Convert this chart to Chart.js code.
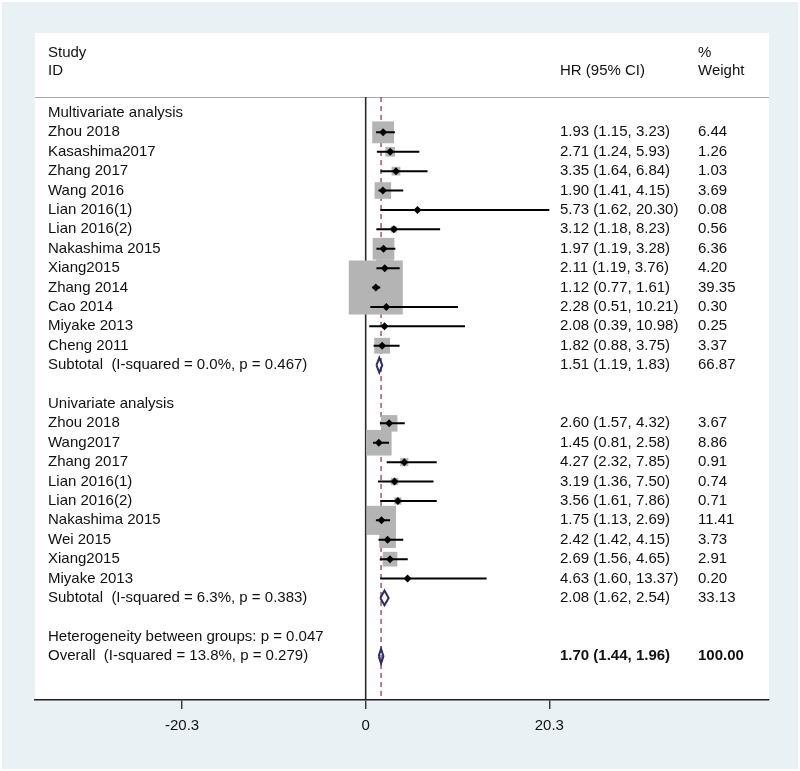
<!DOCTYPE html>
<html>
<head>
<meta charset="utf-8">
<script src="https://cdn.jsdelivr.net/npm/chart.js@4.4.0/dist/chart.umd.min.js"></script>
<style>
  html, body { margin: 0; padding: 0; background: #fff; }
  #wrap { width: 800px; height: 771px; }
</style>
</head>
<body>
<div id="wrap"><canvas id="forest" width="800" height="771"></canvas></div>
<script>
// data
const multiStudies = ['Zhou 2018', 'Kasashima2017', 'Zhang 2017', 'Wang 2016', 'Lian 2016(1)', 'Lian 2016(2)',
    'Nakashima 2015', 'Xiang2015', 'Zhang 2014', 'Cao 2014', 'Miyake 2013', 'Cheng 2011'];
const multiHR = [1.93, 2.71, 3.35, 1.90, 5.73, 3.12, 1.97, 2.11, 1.12, 2.28, 2.08, 1.82];
const multiLo = [1.15, 1.24, 1.64, 1.41, 1.62, 1.18, 1.19, 1.19, 0.77, 0.51, 0.39, 0.88];
const multiHi = [3.23, 5.93, 6.84, 4.15, 20.30, 8.23, 3.28, 3.76, 1.61, 10.21, 10.98, 3.75];
const multiW = [6.44, 1.26, 1.03, 3.69, 0.08, 0.56, 6.36, 4.20, 39.35, 0.30, 0.25, 3.37];

const uniStudies = ['Zhou 2018', 'Wang2017', 'Zhang 2017', 'Lian 2016(1)', 'Lian 2016(2)', 'Nakashima 2015',
    'Wei 2015', 'Xiang2015', 'Miyake 2013'];
const uniHR = [2.60, 1.45, 4.27, 3.19, 3.56, 1.75, 2.42, 2.69, 4.63];
const uniLo = [1.57, 0.81, 2.32, 1.36, 1.61, 1.13, 1.42, 1.56, 1.60];
const uniHi = [4.32, 2.58, 7.85, 7.50, 7.86, 2.69, 4.15, 4.65, 13.37];
const uniW = [3.67, 8.86, 0.91, 0.74, 0.71, 11.41, 3.73, 2.91, 0.20];

const groupTitles = ['Multivariate analysis', 'Univariate analysis'];
const subtotalLabels = ['Subtotal  (I-squared = 0.0%, p = 0.467)', 'Subtotal  (I-squared = 6.3%, p = 0.383)'];
const subtotalHR = [1.51, 2.08];
const subtotalLo = [1.19, 1.62];
const subtotalHi = [1.83, 2.54];
const subtotalW = [66.87, 33.13];

const heterogeneityLabel = 'Heterogeneity between groups: p = 0.047';
const overallLabel = 'Overall  (I-squared = 13.8%, p = 0.279)';
const overallHR = 1.70;
const overallLo = 1.44;
const overallHi = 1.96;
const overallW = 100.00;

const xTicks = [-20.3, 0, 20.3];
const xTickLabels = ['-20.3', '0', '20.3'];

// row layout (one row per line of the table)
const groups = [
    { title: groupTitles[0], names: multiStudies, hr: multiHR, lo: multiLo, hi: multiHi, w: multiW },
    { title: groupTitles[1], names: uniStudies, hr: uniHR, lo: uniLo, hi: uniHi, w: uniW }
];
const textRows = [];
const studyPts = [];
const ciLine = [];
const diamondLine = [];
const DIAMOND_H = 0.38;
let row = 0;
function pushDiamond(est, lo, hi, r) {
    diamondLine.push({ x: lo, y: r }, { x: est, y: r - DIAMOND_H }, { x: hi, y: r },
        { x: est, y: r + DIAMOND_H }, { x: lo, y: r }, { x: null, y: null });
}
const fmt = v => v.toFixed(2);
groups.forEach((g, gi) => {
    textRows.push({ row: row, label: g.title });
    row++;
    g.names.forEach((n, i) => {
        textRows.push({ row: row, label: n, hr: fmt(g.hr[i]) + ' (' + fmt(g.lo[i]) + ', ' + fmt(g.hi[i]) + ')', w: fmt(g.w[i]) });
        studyPts.push({ x: g.hr[i], y: row, w: g.w[i] });
        ciLine.push({ x: g.lo[i], y: row }, { x: g.hi[i], y: row }, { x: null, y: null });
        row++;
    });
    textRows.push({ row: row, label: subtotalLabels[gi],
        hr: fmt(subtotalHR[gi]) + ' (' + fmt(subtotalLo[gi]) + ', ' + fmt(subtotalHi[gi]) + ')', w: fmt(subtotalW[gi]) });
    pushDiamond(subtotalHR[gi], subtotalLo[gi], subtotalHi[gi], row);
    row += 2;
});
textRows.push({ row: row, label: heterogeneityLabel });
row++;
textRows.push({ row: row, label: overallLabel, hr: fmt(overallHR) + ' (' + fmt(overallLo) + ', ' + fmt(overallHi) + ')', w: fmt(overallW), bold: true });
pushDiamond(overallHR, overallLo, overallHi, row);

const Y_MIN = -4.12, Y_MAX = 30.26, SEP_ROW = -0.82;
const X_MIN = -36.56, X_MAX = 44.59;
const FONT = '"Liberation Sans", Arial, sans-serif';
const TXT = '#111';

// box side in px grows with sqrt(weight); biggest (39.35%) is ~54px
const boxSide = w => 54 * Math.sqrt(w / 39.35);

const backgroundPlugin = {
    id: 'panel',
    beforeDraw(chart) {
        const { ctx, chartArea } = chart;
        ctx.save();
        ctx.fillStyle = '#eaf1f4';
        ctx.fillRect(2, 2, 796, 767);
        ctx.fillStyle = '#ffffff';
        ctx.fillRect(chartArea.left, chartArea.top, chartArea.right - chartArea.left, chartArea.bottom - chartArea.top);
        const ys = Math.round(chart.scales.y.getPixelForValue(SEP_ROW)) + 0.5;
        ctx.strokeStyle = '#a8a8a8';
        ctx.lineWidth = 1;
        ctx.beginPath();
        ctx.moveTo(chartArea.left, ys);
        ctx.lineTo(chartArea.right, ys);
        ctx.stroke();
        ctx.restore();
    }
};

const tablePlugin = {
    id: 'table',
    afterDatasetsDraw(chart) {
        const { ctx } = chart;
        const y = chart.scales.y;
        ctx.save();
        ctx.fillStyle = TXT;
        ctx.textBaseline = 'middle';
        ctx.textAlign = 'left';
        ctx.font = '15px ' + FONT;
        ctx.fillText('Study', 48, y.getPixelForValue(-3.09));
        ctx.fillText('ID', 48, y.getPixelForValue(-2.16));
        ctx.fillText('HR (95% CI)', 560, y.getPixelForValue(-2.16));
        ctx.fillText('%', 698, y.getPixelForValue(-3.09));
        ctx.fillText('Weight', 698, y.getPixelForValue(-2.16));
        textRows.forEach(t => {
            const py = y.getPixelForValue(t.row);
            ctx.font = '15px ' + FONT;
            ctx.fillText(t.label, 48, py);
            ctx.font = (t.bold ? 'bold ' : '') + '15px ' + FONT;
            if (t.hr) ctx.fillText(t.hr, 560, py);
            if (t.w) ctx.fillText(t.w, 698, py);
        });
        ctx.restore();
    }
};

new Chart(document.getElementById('forest'), {
    type: 'scatter',
    data: {
        datasets: [
            {
                label: 'null line',
                type: 'line',
                data: [{ x: 0, y: SEP_ROW }, { x: 0, y: Y_MAX }],
                borderColor: '#2a2a2a',
                borderWidth: 1.6,
                pointRadius: 0,
                order: 5
            },
            {
                label: 'overall line',
                type: 'line',
                data: [{ x: overallHR, y: SEP_ROW }, { x: overallHR, y: Y_MAX }],
                borderColor: '#9c4a5e',
                borderWidth: 1.4,
                borderDash: [5, 4],
                pointRadius: 0,
                order: 4
            },
            {
                label: 'weights',
                data: studyPts,
                pointStyle: 'rect',
                pointRadius: c => boxSide(c.raw.w) / Math.SQRT2,
                pointBackgroundColor: '#b4b4b4',
                pointBorderWidth: 0,
                order: 3
            },
            {
                label: 'ci',
                type: 'line',
                data: ciLine,
                borderColor: '#000',
                borderWidth: 2,
                pointRadius: 0,
                spanGaps: false,
                order: 2
            },
            {
                label: 'estimates',
                data: studyPts,
                pointStyle: 'rectRot',
                pointRadius: 4,
                pointBackgroundColor: '#000',
                pointBorderWidth: 0,
                order: 1
            },
            {
                label: 'pooled',
                type: 'line',
                data: diamondLine,
                borderColor: '#2a2a78',
                borderWidth: 2,
                pointRadius: 0,
                spanGaps: false,
                order: 1
            }
        ]
    },
    options: {
        responsive: false,
        animation: false,
        events: [],
        layout: { autoPadding: false, padding: { left: 35, right: 31, top: 33, bottom: 0 } },
        plugins: { legend: { display: false }, tooltip: { enabled: false } },
        scales: {
            x: {
                type: 'linear',
                min: X_MIN,
                max: X_MAX,
                afterBuildTicks: s => { s.ticks = xTicks.map(v => ({ value: v })); },
                afterFit: s => { s.height = 71; },
                border: { display: true, color: '#222', width: 1.6 },
                grid: { drawOnChartArea: false, drawTicks: true, tickLength: 9, color: '#333', lineWidth: 1.4 },
                ticks: {
                    padding: 8,
                    color: TXT,
                    font: { family: FONT, size: 15 },
                    callback: (v) => xTickLabels[xTicks.indexOf(v)]
                }
            },
            y: {
                type: 'linear',
                reverse: true,
                min: Y_MIN,
                max: Y_MAX,
                display: false
            }
        }
    },
    plugins: [backgroundPlugin, tablePlugin]
});
</script>
</body>
</html>
